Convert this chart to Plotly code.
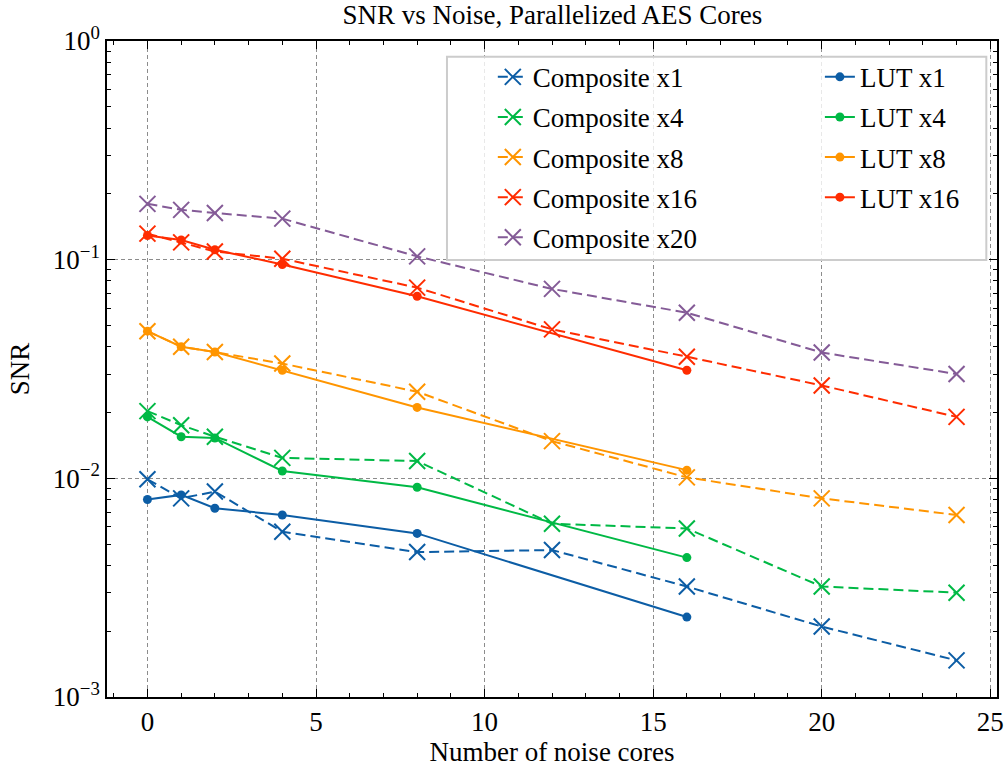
import plotly.graph_objects as go

# ---------------- data ----------------
x_comp = [0, 1, 2, 4, 8, 12, 16, 20, 24]
x_lut = [0, 1, 2, 4, 8, 16]

comp_x1 = [0.0099, 0.0081, 0.0087, 0.0057, 0.0046, 0.0047, 0.0032, 0.0021, 0.00147]
comp_x4 = [0.0203, 0.0175, 0.0155, 0.0124, 0.0120, 0.0062, 0.0059, 0.0032, 0.0030]
comp_x8 = [0.0471, 0.0400, 0.0378, 0.0335, 0.0249, 0.0148, 0.0101, 0.0081, 0.0068]
comp_x16 = [0.1315, 0.1200, 0.1090, 0.1010, 0.0745, 0.0480, 0.0360, 0.0266, 0.0191]
comp_x20 = [0.1800, 0.1690, 0.1635, 0.1540, 0.1035, 0.0735, 0.0572, 0.0376, 0.0300]

lut_x1 = [0.0080, 0.0084, 0.0073, 0.0068, 0.0056, 0.00232]
lut_x4 = [0.0191, 0.0155, 0.0153, 0.0108, 0.0091, 0.00434]
lut_x8 = [0.0471, 0.0400, 0.0378, 0.0312, 0.0211, 0.0109]
lut_x16 = [0.1290, 0.1230, 0.1110, 0.0950, 0.0680, 0.0312]

comp_names = ["Composite x1", "Composite x4", "Composite x8", "Composite x16", "Composite x20"]
lut_names = ["LUT x1", "LUT x4", "LUT x8", "LUT x16"]

x_ticks = [0, 5, 10, 15, 20, 25]
y_ticks = [1e-3, 1e-2, 1e-1, 1]
y_ticktext = ["10<sup>−3</sup>", "10<sup>−2</sup>", "10<sup>−1</sup>", "10<sup>0</sup>"]

colors = ["#0C5DA5", "#00B945", "#FF9500", "#FF2C00", "#845B97"]

FONT = "Liberation Serif"
FS = 27

fig = go.Figure()

comp_series = [comp_x1, comp_x4, comp_x8, comp_x16, comp_x20]
lut_series = [lut_x1, lut_x4, lut_x8, lut_x16]

for i, (name, ys) in enumerate(zip(comp_names, comp_series)):
    fig.add_trace(go.Scatter(
        x=x_comp, y=ys, name=name, mode="lines+markers",
        line=dict(color=colors[i], width=2, dash="10px,5px"),
        marker=dict(symbol="x-thin", size=16, color=colors[i],
                    line=dict(width=2, color=colors[i])),
        legend="legend", legendgroup=name,
    ))

for i, (name, ys) in enumerate(zip(lut_names, lut_series)):
    fig.add_trace(go.Scatter(
        x=x_lut, y=ys, name=name, mode="lines+markers",
        line=dict(color=colors[i], width=2),
        marker=dict(symbol="circle", size=9, color=colors[i]),
        legend="legend2", legendgroup=name,
    ))

minor_y = [m * 10 ** e for e in range(-3, 0) for m in range(2, 10)]

fig.update_xaxes(
    range=[-1.2, 25.2], tickvals=x_ticks, ticks="inside", ticklen=8, tickwidth=1.2,
    tickcolor="black", showline=True, linecolor="black", linewidth=1.5, mirror="allticks",
    showgrid=True, gridcolor="#8c8c8c", griddash="4px,3px", gridwidth=1, zeroline=False,
    minor=dict(dtick=1, ticks="inside", ticklen=4, tickcolor="black", showgrid=False),
    tickfont=dict(family=FONT, size=FS, color="black"), automargin=False,
    ticklabeloverflow="allow",
    title=dict(text="Number of noise cores", font=dict(family=FONT, size=FS, color="black"), standoff=10),
)
fig.update_yaxes(
    type="log", range=[-3, 0], tickvals=y_ticks, ticktext=y_ticktext, ticks="inside",
    ticklen=8, tickwidth=1.2, tickcolor="black", showline=True, linecolor="black",
    linewidth=1.5, mirror="allticks", showgrid=True, gridcolor="#8c8c8c", griddash="4px,3px",
    gridwidth=1, zeroline=False, automargin=False,
    minor=dict(tickvals=minor_y, ticks="inside", ticklen=4, tickcolor="black", showgrid=False),
    tickfont=dict(family=FONT, size=FS, color="black"),
    title=dict(text="SNR", font=dict(family=FONT, size=FS, color="black"), standoff=15),
)

# legend frame
fig.add_shape(type="rect", xref="paper", yref="paper", x0=0.382, x1=0.988, y0=0.666, y1=0.976,
              line=dict(color="#cccccc", width=2), fillcolor="rgba(255,255,255,0.8)", layer="above")

leg_common = dict(bgcolor="rgba(0,0,0,0)", borderwidth=0, tracegroupgap=2,
                  font=dict(family=FONT, size=FS, color="black"),
                  yanchor="top", xanchor="left", itemwidth=30)
fig.update_layout(
    legend=dict(x=0.4335, y=0.982, **leg_common),
    legend2=dict(x=0.801, y=0.982, **leg_common),
)

fig.update_layout(
    width=1008, height=767,
    margin=dict(l=107, r=11, t=41, b=70, autoexpand=False),
    paper_bgcolor="white", plot_bgcolor="white",
    title=dict(text="SNR vs Noise, Parallelized AES Cores", x=0.548, xanchor="center",
               y=0.9817, yanchor="middle", automargin=False,
               font=dict(family=FONT, size=FS, color="black")),
    showlegend=True,
)

fig.write_html("out.html", config={"displayModeBar": False},
               post_script="document.body.style.margin='0';document.body.style.overflow='hidden';")
